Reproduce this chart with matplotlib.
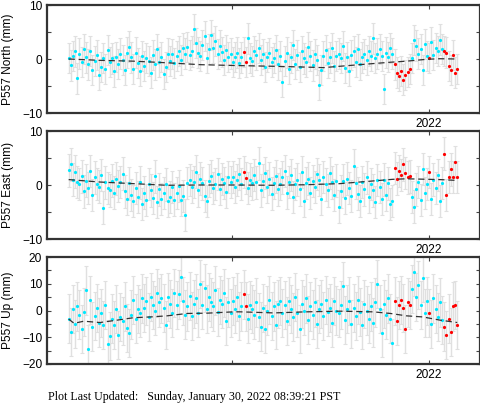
import numpy as np
import pandas as pd
import matplotlib
matplotlib.use('Agg')
import matplotlib.pyplot as plt

# daily solutions, shown every 2nd day
dates = pd.date_range('2021-02-01', '2022-01-27', freq='2D')

north = [0.2, -1.2, 0.5, 1.4, -3.6, 1.0, -0.6, 1.8, 0.3, -1.0, 1.5, -2.0, -0.3, 0.8, -3.0,
         -1.5, 0.2, -1.8, 1.6, -0.5, 0.1, -2.3, 0.4, -0.9, 1.0,
         -0.2, -2.1, 1.2, 2.3, 0.3, -1.8, 1.2, -0.7, -2.2, 0.6, -1.3, 0.2, -0.4, -2.5, 0.8,
         -1.0, 1.8, -0.6, 0.4, -2.8, -1.5, 1.0, -0.3, 0.9, -0.8,
         0.5, 1.5, -0.2, 2.0, 1.0, 2.2, 0.8, 1.4, 5.5, 3.0, 1.2, 0.6, 2.6, 4.3, 0.2,
         1.8, 4.5, 2.0, 3.4, 0.9, 2.5, 1.3, -0.2, 1.6, 0.4,
         1.0, -0.5, 0.4, 1.2, -0.8, 0.3, 1.3, -0.5, 3.8, 0.2, -0.3, 1.5, 0.8, 2.0, -0.2,
         0.9, -1.5, 0.4, 1.1, -0.6, 0.2, 1.6, -1.0, 0.5, -4.3,
         -0.4, 1.2, -1.8, 0.3, 2.6, -0.9, 0.7, -1.5, 1.4, 0.1, -0.6, 2.2, 0.5, -1.2, 0.9,
         -0.2, -4.8, -2.0, 0.6, 1.6, -0.8, 0.3, 2.0, -1.3, 0.5,
         1.0, 0.2, 2.4, -1.6, 0.4, -2.2, 0.8, 1.4, -0.5, 1.8, -1.0, 0.3, 0.9, -0.2, 1.5,
         0.6, 3.8, 0.2, 1.0, 1.8, 0.5, -5.5, 1.2, 0.4, 2.0,
         1.0, -1.0, -2.5, -3.2, -2.2, -3.8, -3.0, -2.4, -1.8,
         0.2, 3.5, 2.5, 1.0, 1.8, -2.0, 2.8, 0.6, 0.2, 3.2, 0.8, 2.0, 1.5, 3.6, 1.8,
         1.5, 1.2, -1.3, -2.0, 0.8, -2.5, -1.8]

east = [2.7, 3.8, 1.0, 2.5, 0.6, 0.2, 1.6, -1.2, 0.8, -0.5, 2.6, -1.8, 1.4, 0.2, -0.3,
        1.8, -4.2, 0.5, -0.6, -1.0, 0.8, -1.4, 1.2, -0.2, 0.6,
        2.1, -1.2, -2.5, 0.3, -1.8, -3.0, -0.6, -2.2, 0.5, -3.5, -1.4, -2.8, 0.2, -1.0, -2.4,
        1.6, -3.2, -0.8, -2.6, -1.5, 0.1, -3.0, -2.2, -0.4, -2.7,
        -1.5, -0.2, -2.8, -2.0, -5.5, 0.4, 0.9, -0.3, 0.6, 2.5, -1.0, 1.2, 0.3, -2.0, -3.0,
        0.8, 1.6, -0.5, 0.2, 2.0, -0.7, 1.1, 0.4, -1.3, 1.5,
        0.6, 1.5, -0.4, 0.9, 2.0, 0.2, 2.4, 1.3, -0.6, 1.0, 0.3, 1.8, 0.5, 4.0, -1.0,
        0.8, 2.2, -0.3, 1.2, -1.6, 0.4, 1.6, -0.8, 0.2, 1.4,
        2.6, -1.4, 0.6, 1.8, -2.2, 0.2, 1.0, -0.8, 2.4, -3.0, 0.4, 1.2, -1.5, 0.7, -0.4,
        2.0, 0.9, -2.6, 1.5, 0.1, -1.0, 2.2, 0.5, -1.8, 0.8,
        -4.0, -1.2, 0.8, -2.4, 1.2, -0.5, -2.0, 3.6, 0.4, -1.6, -3.0, 0.6, -0.8, 1.4, -2.2,
        0.2, -1.0, -3.2, 0.9, -0.4, -2.6, 1.0, -1.8, 0.3, -3.5,
        -3.0, 3.2, 1.2, 2.6, 1.8, 3.8, 2.2, 1.4, 1.6,
        -2.2, -4.0, -0.8, 0.6, -2.8, 3.0, -1.5, 0.2, 2.4, -2.6, 1.0, -0.6, 1.8, -3.0, 0.4,
        5.8, -1.9, 1.5, 2.9, 1.5, 4.3, 1.5]

up = [-3.0, -8.0, 0.5, -5.0, 1.5, -1.5, -7.0, -0.5, 7.5, -14.5, 4.0, -6.0, -2.0, 0.8, -4.5,
      -1.0, -5.5, 2.0, -12.5, -9.5, -3.0, -5.5, 0.5, -9.0, -2.5,
      -4.0, 1.5, -6.5, -8.5, -1.5, 4.0, -3.0, 0.5, -1.0, 4.5, 1.0, 3.5, -2.5, 5.0, 2.0,
      0.0, 6.5, 3.0, 4.5, 1.0, -5.5, 5.0, 2.5, -1.0, 6.5,
      2.0, 6.0, 12.5, 3.5, -1.5, 1.5, 5.5, -2.0, 2.5, 4.5, -1.0, 10.0, 2.0, 8.5, 0.5,
      5.0, 3.0, 1.5, 7.5, -0.5, 4.0, 2.5, 6.5, -4.0, 3.0,
      -1.0, 3.5, 0.5, 5.0, -2.0, 1.5, 6.0, 1.5, -3.0, 2.0, 0.5, -1.5, 3.0, -2.5, -6.0,
      1.0, -7.0, 0.0, 4.0, -2.0, 1.5, -5.5, 2.5, 3.5, -1.0,
      2.0, -4.0, 3.5, 0.5, -2.5, 5.0, -1.0, -7.0, 2.5, 0.0, 4.5, -3.5, 1.5, -1.5, 3.0,
      -5.0, 0.5, 2.5, -2.0, 4.0, -0.5, 1.0, -4.5, 3.5, 0.0,
      -1.0, 2.0, 9.0, -3.5, 0.5, 3.5, -5.0, 1.0, -2.0, 4.0, -0.5, -5.5, 2.5, 0.0, -3.0,
      1.5, -4.5, 3.0, 10.0, 0.5, -8.5, 2.5, -1.5, 4.5, -3.0,
      -12.0, 3.5, -4.0, 2.0, 4.0, 1.0, -7.0, 3.0, 2.0,
      8.0, 14.5, 5.0, 9.5, 2.0, 12.0, -1.0, 3.5, -1.0, -5.0, 4.5, 0.5, -2.5, 3.0, -3.5,
      -6.0, -9.0, -3.0, -8.0, 1.5, 2.2, -5.5]

# rapid solutions (red)
red_periods = [('2021-07-13', '2021-07-15'), ('2021-11-30', '2021-12-14'),
               ('2022-01-01', '2022-01-01'), ('2022-01-15', '2022-01-27')]

# model curves: days after 2021-02-01, value in mm
north_trend_days = [0, 29, 60, 91, 122, 153, 190, 220, 236, 251, 282, 298, 313, 332, 344, 360]
north_trend = [0, -0.25, -0.4, -0.7, -1.05, -1.2, -1.35, -1.5, -1.6, -1.35, -0.85, -0.6, -0.4, -0.05, 0.05, 0]
east_trend_days = [0, 29, 60, 91, 122, 153, 190, 220, 251, 282, 300, 313, 344, 360]
east_trend = [1.0, 0.55, 0.25, -0.05, 0.0, 0.0, -0.05, 0.05, 0.25, 0.75, 1.05, 1.15, 1.0, 0.85]
up_trend_days = [0, 5, 14, 29, 45, 60, 76, 91, 110, 128, 153, 159, 190, 220, 251, 282, 298, 313, 328, 344, 360]
up_trend = [-3.2, -4.8, -4.0, -4.5, -3.6, -2.7, -2.4, -2.0, -1.1, -1.0, -0.5, -0.5, -0.9, -0.5, -0.25, -0.5, -1.1, -2.0, -2.4, -3.6, -4.5]


def decyear(d):
    return d.year + (d.dayofyear - 1) / 365.0

t = np.array(decyear(dates))
red = np.zeros(len(dates), bool)
for a, b in red_periods:
    red |= (dates >= a) & (dates <= b)

start = pd.Timestamp('2021-02-01')

plt.rcParams['font.family'] = ['Liberation Sans', 'DejaVu Sans']
fig = plt.figure(figsize=(4.81, 4.04), dpi=100)


def plotPanel(rect, y, tdays, tvals, sig, ylim, major, label):
    ax = fig.add_axes(rect)
    y = np.array(y)
    ax.errorbar(t, y, yerr=sig, fmt='none', ecolor='#e0e0e0', elinewidth=1.0,
                capsize=1.6, capthick=0.8, zorder=1)
    td = np.array(decyear(start + pd.to_timedelta(tdays, 'D')))
    ax.plot(td, tvals, ls=(0, (5, 3)), color='#333333', lw=0.9, zorder=3)
    ax.plot(t[~red], y[~red], 'o', color='#00e8ff', ms=2.3, mec='none', zorder=2)
    ax.plot(t[red], y[red], 'o', color='#ff0000', ms=2.3, mec='none', zorder=2)
    ax.set_xlim(2021.030, 2022.129)
    ax.set_ylim(ylim)
    ax.set_xticks([2021.5, 2022.0])
    ax.set_xticklabels(['', '2022'])
    ax.set_yticks(major)
    ax.set_yticks(np.arange(ylim[0] + 5, ylim[1], 10), minor=True)
    ax.tick_params(which='both', direction='in', top=True, right=True, length=3,
                   width=0.8, color='#444444', labelsize=8.6, pad=3.5)
    for s in ax.spines.values():
        s.set_linewidth(1.6)
        s.set_color('#333333')
    ax.set_ylabel(label, fontsize=8.6)
    ax.yaxis.set_label_coords(-0.076, 0.5)
    return ax

plotPanel([47/481, 1-113/404, 433/481, 108/404], north, north_trend_days, north_trend,
          2.8, (-10, 10), [-10, 0, 10], 'P557 North (mm)')
plotPanel([47/481, 1-239/404, 433/481, 108/404], east, east_trend_days, east_trend,
          3.0, (-10, 10), [-10, 0, 10], 'P557 East (mm)')
plotPanel([47/481, 1-364/404, 433/481, 107/404], up, up_trend_days, up_trend,
          9.0, (-20, 20), [-20, -10, 0, 10, 20], 'P557 Up (mm)')

fig.text(48/481, 1-397/404, 'Plot Last Updated:   Sunday, January 30, 2022 08:39:21 PST',
         family='Liberation Serif', fontsize=8.65, va='center')

fig.savefig('out.png', dpi=100)
